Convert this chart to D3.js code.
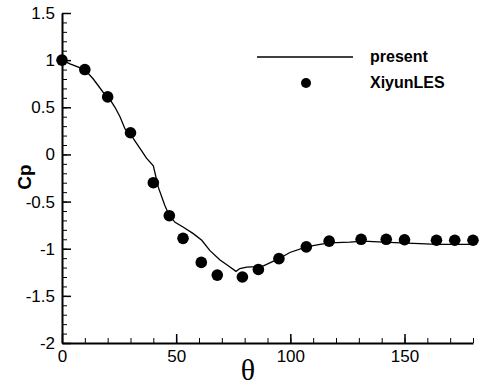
<!DOCTYPE html>
<html lang="en">
<head>
<meta charset="UTF-8">
<script src="https://d3js.org/d3.v7.min.js"></script>
<title>Cp vs theta</title>
<style>
html, body { margin: 0; padding: 0; background: #fff; }
svg { display: block; }
.tick text { font-family: 'Liberation Sans', Arial, sans-serif; font-size: 17px; fill: #000; }
.legend text { font-family: 'Liberation Sans', Arial, sans-serif; font-size: 16px; font-weight: bold; }
</style>
</head>
<body>
<svg id="canvas"></svg>
<script>
// present (line)
let presentTheta = [0, 3.5, 10, 13.7, 18, 20.3, 23.2, 25.4, 27.6, 29.8, 34, 37, 40, 42.2, 45, 47, 49.5, 53, 57.5, 61.2, 64.8, 69.2, 72.8, 76.2, 77.9, 80.9, 85.2, 88, 95, 99.8, 107, 113, 117.3, 126, 132, 140.7, 151, 156.7, 164, 180]
let presentCp = [1.0, 0.96, 0.90, 0.80, 0.66, 0.61, 0.50, 0.40, 0.27, 0.22, 0.07, -0.04, -0.12, -0.35, -0.54, -0.65, -0.72, -0.77, -0.84, -0.91, -1.02, -1.12, -1.18, -1.24, -1.21, -1.195, -1.19, -1.185, -1.106, -1.04, -0.98, -0.955, -0.937, -0.93, -0.92, -0.93, -0.94, -0.947, -0.955, -0.955]

// XiyunLES (dots)
let lesTheta = [0, 10, 20, 30, 40, 47, 53, 61, 68, 79, 86, 95, 107, 117, 131, 142, 150, 164, 172, 180]
let lesCp = [1.0, 0.90, 0.61, 0.23, -0.30, -0.65, -0.89, -1.145, -1.28, -1.30, -1.22, -1.105, -0.98, -0.92, -0.90, -0.90, -0.905, -0.91, -0.91, -0.91]

let xMajor = [0, 50, 100, 150]
let yMajor = [1.5, 1, 0.5, 0, -0.5, -1, -1.5, -2]

let width = 484
let height = 388
let padLeft = 62, padRight = 473, padTop = 13, padBottom = 343

let svg = d3.select('#canvas').attr('width', width).attr('height', height)

let xScale = d3.scaleLinear().domain([0, 180]).range([padLeft, padRight])
let yScale = d3.scaleLinear().domain([-2, 1.5]).range([padBottom, padTop])

let xMinor = d3.range(0, 181, 10)
let yMinor = d3.range(-20, 16, 1).map(d => d / 10)

// minor ticks
svg.append('g')
    .attr('transform', 'translate(0,' + padBottom + ')')
    .call(d3.axisBottom(xScale).tickValues(xMinor).tickSizeInner(-5).tickSizeOuter(0).tickFormat(''))
    .call(g => g.select('.domain').remove())
    .call(g => g.selectAll('line').attr('stroke-width', 1))

svg.append('g')
    .attr('transform', 'translate(' + padLeft + ',0)')
    .call(d3.axisLeft(yScale).tickValues(yMinor).tickSizeInner(-5).tickSizeOuter(0).tickFormat(''))
    .call(g => g.select('.domain').remove())
    .call(g => g.selectAll('line').attr('stroke-width', 1))

// major ticks
svg.append('g')
    .attr('id', 'x-axis')
    .attr('transform', 'translate(0,' + padBottom + ')')
    .call(d3.axisBottom(xScale).tickValues(xMajor).tickSizeInner(-9).tickSizeOuter(0).tickPadding(7).tickFormat(d3.format('d')))
    .call(g => g.select('.domain').attr('stroke-width', 2))
    .call(g => g.selectAll('.tick line').attr('stroke-width', 1.5))

svg.append('g')
    .attr('id', 'y-axis')
    .attr('transform', 'translate(' + padLeft + ',0)')
    .call(d3.axisLeft(yScale).tickValues(yMajor).tickSizeInner(-9).tickSizeOuter(0).tickPadding(7).tickFormat(d => String(d)))
    .call(g => g.select('.domain').attr('stroke-width', 2))
    .call(g => g.selectAll('.tick line').attr('stroke-width', 1.5))

// present line
let line = d3.line()
    .x((d, i) => xScale(presentTheta[i]))
    .y(d => yScale(d))

svg.append('path')
    .datum(presentCp)
    .attr('d', line)
    .attr('fill', 'none')
    .attr('stroke', '#000')
    .attr('stroke-width', 1.3)

// LES dots
svg.selectAll('.dot')
    .data(lesCp)
    .enter()
    .append('circle')
    .attr('class', 'dot')
    .attr('cx', (d, i) => xScale(lesTheta[i]))
    .attr('cy', d => yScale(d))
    .attr('r', 5.8)
    .attr('fill', '#000')

// legend
let legend = svg.append('g').attr('class', 'legend')
legend.append('line')
    .attr('x1', 257).attr('x2', 353).attr('y1', 57).attr('y2', 57)
    .attr('stroke', '#000').attr('stroke-width', 1.3)
legend.append('text').attr('x', 370).attr('y', 62).text('present')
legend.append('circle').attr('cx', 306).attr('cy', 83).attr('r', 5).attr('fill', '#000')
legend.append('text').attr('x', 370).attr('y', 88).text('XiyunLES')

// axis titles
svg.append('text')
    .attr('x', 248).attr('y', 380)
    .attr('text-anchor', 'middle')
    .style('font-family', "'Liberation Serif', 'Times New Roman', serif")
    .style('font-size', '30px')
    .text('θ')

svg.append('text')
    .attr('transform', 'translate(31,177) rotate(-90)')
    .attr('text-anchor', 'middle')
    .style('font-family', "'Liberation Sans', Arial, sans-serif")
    .style('font-size', '19px')
    .style('font-weight', 'bold')
    .text('Cp')
</script>
</body>
</html>
